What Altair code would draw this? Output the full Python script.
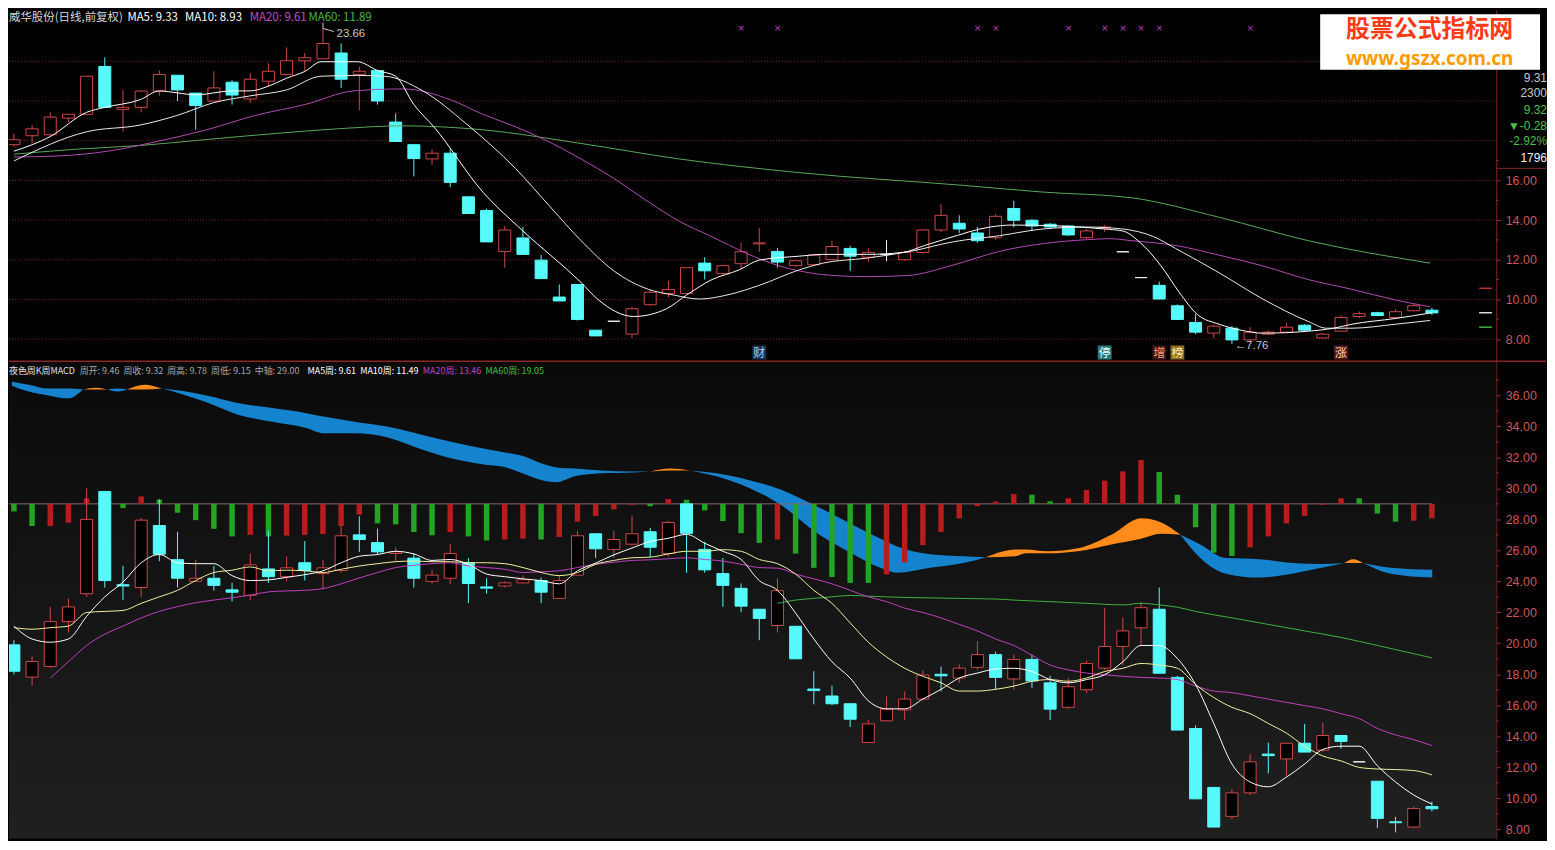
import altair as alt
import pandas as pd

CJK = "Noto Sans CJK SC"
NUM = "Liberation Sans"

W, HT, HB = 1495, 352, 480

# ---------------- daily candles (top panel) ----------------
d_open = [17.80, 18.25, 18.30, 19.14, 19.33, 21.74, 19.58, 19.68, 20.50, 21.30,
          20.40, 20.00, 20.95, 20.10, 21.00, 21.34, 22.03, 22.13, 22.42, 21.34,
          21.54, 18.94, 17.80, 17.08, 17.37, 15.17, 14.48, 12.42, 13.10, 11.98,
          10.12, 10.75, 8.45, 8.90, 8.25, 9.73, 10.30, 10.30, 11.83, 11.30,
          11.80, 12.80, 12.42, 11.70, 11.75, 12.00, 12.57, 12.13, 12.27, 12.00,
          12.37, 13.50, 13.84, 13.35, 13.11, 14.58, 13.99, 13.79, 13.70, 13.11,
          13.60, 12.40, 11.10, 10.71, 9.68, 8.84, 8.30, 8.55, 7.96, 8.25,
          8.35, 8.70, 8.06, 8.40, 9.14, 9.33, 9.09, 9.43, 9.46]
d_close = [18.05, 18.60, 19.19, 19.33, 21.25, 19.68, 19.68, 20.50, 21.34, 20.56,
           19.77, 20.66, 20.30, 21.10, 21.50, 22.03, 22.18, 22.90, 21.10, 21.50,
           20.00, 17.96, 17.10, 17.37, 15.90, 14.33, 12.90, 13.50, 12.27, 11.05,
           9.92, 8.99, 8.16, 8.90, 9.53, 10.36, 10.50, 11.60, 11.44, 11.70,
           12.40, 12.85, 11.88, 11.95, 12.23, 12.67, 12.18, 12.37, 12.27, 12.37,
           13.50, 14.24, 13.55, 12.96, 14.19, 13.99, 13.70, 13.65, 13.25, 13.45,
           13.65, 12.40, 11.10, 10.02, 8.99, 8.35, 8.65, 7.96, 8.35, 8.35,
           8.60, 8.45, 8.25, 9.09, 9.28, 9.19, 9.38, 9.68, 9.32]
d_high = [18.35, 18.80, 19.43, 19.33, 21.25, 22.20, 20.56, 20.56, 21.54, 21.30,
          20.40, 21.50, 21.05, 21.40, 21.90, 22.70, 22.42, 23.66, 22.90, 21.74,
          21.54, 19.38, 17.80, 17.57, 17.57, 15.17, 14.58, 13.70, 13.65, 12.23,
          10.75, 10.75, 8.45, 8.90, 9.63, 10.50, 10.94, 11.60, 12.13, 11.75,
          12.85, 13.60, 12.60, 12.00, 12.25, 12.96, 12.70, 12.57, 13.00, 12.45,
          13.55, 14.82, 14.24, 13.65, 14.30, 14.97, 14.05, 13.85, 13.75, 13.55,
          13.75, 12.40, 11.10, 10.90, 9.75, 9.28, 8.75, 8.65, 8.60, 8.45,
          8.80, 8.75, 8.30, 9.20, 9.40, 9.38, 9.50, 9.78, 9.58]
d_low = [17.70, 17.86, 18.20, 18.94, 19.33, 19.68, 18.45, 19.43, 20.26, 20.00,
         18.55, 20.00, 19.82, 19.90, 20.75, 21.30, 21.50, 22.13, 20.66, 19.53,
         19.82, 17.96, 16.20, 16.78, 15.66, 14.33, 12.90, 11.60, 12.27, 11.05,
         9.92, 8.94, 8.16, 8.90, 8.06, 9.68, 10.10, 10.30, 11.00, 11.25,
         11.55, 12.40, 11.60, 11.65, 11.70, 12.00, 11.44, 11.88, 11.93, 11.95,
         12.30, 13.40, 13.35, 12.86, 13.00, 13.65, 13.45, 13.60, 13.20, 13.05,
         13.40, 12.40, 11.10, 10.00, 8.99, 8.25, 8.06, 7.76, 7.90, 8.20,
         8.30, 8.40, 8.00, 8.35, 9.05, 9.15, 9.05, 9.40, 9.22]

# daily moving averages (candle index, price)
ma5_i = [1, 3, 5, 6, 7.95, 9, 10, 11, 13, 14, 15, 16, 17, 17.9, 19, 19.9, 21, 22, 23, 24.1,
         26.8, 29, 32.2, 33.1, 35.1, 36.9, 38, 39.4, 40.9, 42, 44.2, 45.5, 47.9, 49.9, 51.1,
         52.3, 54.7, 55.9, 58.6, 61, 62, 62.9, 64.1, 65.1, 66.1, 67.3, 68.5, 69.7, 72.2, 73.6,
         74.6, 77, 79]
ma5_v = [17.47, 18.21, 19.43, 19.68, 20.07, 20.51, 20.41, 20.31, 20.51, 20.51, 20.75, 21.15,
         21.49, 21.98, 21.98, 21.98, 21.54, 21.25, 19.82, 18.70, 15.41, 13.45, 10.85, 10.02,
         9.14, 9.53, 10.22, 11.00, 11.49, 11.98, 12.18, 12.27, 12.27, 12.37, 12.72, 13.06,
         13.65, 13.75, 13.70, 13.55, 13.45, 12.91, 11.69, 10.36, 9.24, 8.75, 8.45, 8.30, 8.40,
         8.55, 8.75, 9.04, 9.33]
ma10_i = [1, 5, 7.95, 10, 12, 14, 16, 17.9, 19.9, 21.4, 23.5, 25.9, 28.6, 30.4, 32.2, 34,
          35.9, 37.3, 38.7, 40.4, 42, 44.2, 45.5, 47.9, 50.3, 52.7, 55.2, 57.6, 60, 62, 63.7,
          64.9, 67.3, 69.7, 72.2, 73.2, 74.6, 77, 78.9]
ma10_v = [16.98, 18.45, 18.79, 19.28, 19.92, 20.26, 20.56, 21.25, 21.29, 21.25, 20.51, 18.84,
          16.59, 14.77, 12.96, 11.44, 10.51, 10.22, 10.02, 10.26, 10.71, 11.49, 11.83, 12.08,
          12.42, 12.91, 13.21, 13.55, 13.65, 13.55, 13.16, 12.57, 11.34, 10.02, 8.89, 8.55,
          8.55, 8.75, 8.94]
ma20_i = [1, 3.44, 6.16, 8.87, 11.6, 14.3, 17, 19.7, 22.4, 25, 26.8, 28.6, 30.4, 32.2, 34,
          35.9, 37.6, 39.4, 41.3, 43.1, 44.2, 45.5, 47.9, 50.1, 52.7, 55.2, 57.6, 60, 61.3,
          62.5, 64.9, 67.3, 69.7, 72.2, 74.6, 77, 78.9]
ma20_v = [17.18, 17.23, 17.47, 17.96, 18.55, 19.28, 19.82, 20.51, 20.61, 20.07, 19.33, 18.70,
          17.96, 17.08, 16.10, 14.92, 13.94, 13.16, 12.32, 11.69, 11.44, 11.25, 11.15, 11.20,
          11.74, 12.42, 12.81, 13.01, 13.06, 12.96, 12.72, 12.23, 11.69, 11.00, 10.51, 9.97,
          9.63]
ma60_i = [1, 4.4, 7.95, 11.6, 15.2, 18.8, 22.4, 26.8, 32.2, 37.6, 44.2, 53.2, 57.6, 62.5,
          67.3, 72.2, 78.9]
ma60_v = [17.32, 17.57, 17.76, 18.06, 18.35, 18.60, 18.75, 18.55, 17.86, 17.08, 16.39, 15.75,
          15.41, 15.12, 14.14, 12.96, 11.83]

top_grid = [8, 10, 12, 14, 16, 18, 20, 22]
top_minor = [9, 11, 13, 15, 17]
xmark_i = [41, 43, 54, 55, 59, 61, 62, 63, 64, 69]
flag_i = [42, 61, 64, 65, 74]
flag_t = ["财", "停", "增", "榜", "涨"]
flag_bg = ["#1c3350", "#2a7878", "#3a1810", "#8a6a20", "#5a1a1a"]
flag_fg = ["#9fd0ff", "#e8ffff", "#ff9a70", "#fff0b0", "#ffd0c0"]

# ---------------- weekly candles (bottom panel) ----------------
w_open = [19.90, 17.82, 18.50, 21.40, 23.20, 29.80, 23.78, 23.60, 27.60, 25.40,
          24.00, 24.20, 23.45, 23.10, 24.80, 24.30, 25.20, 24.50, 24.70, 27.00,
          26.50, 25.80, 25.50, 24.00, 24.20, 25.20, 23.64, 23.70, 23.90, 24.05,
          22.90, 24.40, 27.07, 26.06, 26.40, 27.20, 25.80, 29.00, 26.06, 24.50,
          23.55, 22.20, 21.15, 21.10, 17.05, 16.60, 16.10, 13.60, 15.00, 15.70,
          16.40, 18.00, 17.76, 18.45, 19.27, 17.70, 18.96, 17.45, 15.87, 17.00,
          18.40, 19.80, 21.00, 22.20, 17.80, 14.50, 10.70, 8.83, 10.35, 12.85,
          12.54, 13.55, 13.10, 14.05, 12.35, 11.10, 8.48, 8.14, 9.46]
w_close = [18.20, 18.83, 21.40, 22.35, 28.00, 24.05, 23.70, 27.95, 25.75, 24.20,
           24.20, 23.74, 23.30, 25.06, 24.30, 24.87, 24.70, 24.87, 26.94, 26.70,
           25.90, 25.90, 24.20, 24.40, 25.80, 23.86, 23.56, 23.90, 24.10, 23.30,
           24.05, 26.94, 26.10, 26.70, 27.07, 26.20, 27.80, 27.10, 24.74, 23.74,
           22.40, 21.60, 23.40, 19.00, 16.95, 16.10, 15.10, 14.80, 15.75, 16.40,
           17.95, 17.90, 18.40, 19.27, 17.80, 18.96, 17.57, 15.75, 17.20, 18.70,
           19.80, 20.80, 22.30, 18.07, 14.40, 9.96, 8.14, 10.35, 12.35, 12.75,
           13.55, 12.98, 14.05, 13.67, 12.35, 8.70, 8.42, 9.33, 9.32]
w_high = [20.20, 19.15, 22.35, 22.90, 30.00, 29.80, 25.00, 28.10, 29.30, 27.20,
          25.40, 25.00, 23.90, 25.80, 27.26, 25.60, 26.60, 25.40, 27.60, 28.20,
          27.40, 26.20, 25.80, 24.74, 26.40, 25.50, 24.20, 24.00, 24.36, 24.24,
          24.36, 27.26, 27.07, 27.26, 28.26, 27.45, 27.90, 29.00, 26.56, 25.50,
          23.86, 22.20, 24.20, 21.10, 18.20, 17.26, 16.10, 15.06, 16.57, 16.90,
          18.26, 18.50, 18.64, 20.15, 19.46, 19.27, 19.27, 17.90, 17.76, 18.90,
          22.30, 21.66, 22.67, 23.60, 17.90, 14.70, 10.70, 10.60, 12.85, 13.60,
          13.55, 14.80, 14.87, 14.05, 12.35, 11.10, 8.80, 9.46, 9.78]
w_low = [18.00, 17.26, 18.40, 20.70, 23.00, 23.60, 22.80, 23.00, 25.30, 23.60,
         24.00, 23.40, 22.70, 22.80, 23.90, 24.00, 24.05, 23.50, 24.55, 25.90,
         25.75, 25.30, 23.60, 23.86, 23.80, 22.60, 23.20, 23.60, 23.86, 22.60,
         22.85, 24.40, 25.50, 25.50, 26.30, 25.56, 25.60, 24.55, 24.55, 22.35,
         22.00, 20.20, 20.70, 19.00, 16.06, 16.00, 14.60, 13.60, 14.95, 15.06,
         16.38, 16.90, 17.45, 18.30, 17.00, 17.00, 17.13, 15.05, 15.75, 16.80,
         18.30, 18.58, 19.90, 18.07, 14.40, 9.96, 8.14, 8.64, 10.20, 11.60,
         11.47, 12.98, 13.00, 13.20, 12.35, 8.07, 7.80, 8.10, 9.15]

wma5_v = [21.11, 20.28, 20.07, 20.28, 21.74, 23.00, 23.95, 25.20, 25.73, 25.20,
          25.14, 25.14, 24.37, 24.05, 24.09, 24.26, 24.43, 24.68, 25.20, 25.62,
          25.73, 25.94, 25.77, 25.35, 25.41, 25.10, 24.47, 24.30, 24.16, 24.05,
          23.84, 24.68, 25.18, 25.71, 26.15, 26.57, 26.78, 27.03, 26.46, 25.94,
          25.41, 24.05, 23.42, 21.95, 20.28, 18.81, 17.76, 16.29, 15.77, 15.77,
          16.40, 17.03, 17.76, 18.08, 18.34, 18.39, 18.18, 17.66, 17.45, 17.66,
          17.97, 18.81, 19.86, 19.86, 19.02, 17.34, 14.83, 12.21, 11.05, 10.74,
          11.37, 12.21, 13.15, 13.36, 13.36, 12.10, 11.05, 10.21, 9.63]
wma10_v = [21.01, 20.91, 21.01, 21.11, 21.99, 22.06, 22.12, 22.58, 23.00, 23.42,
           24.05, 24.57, 24.72, 24.93, 24.68, 24.72, 24.68, 24.57, 24.78, 24.99,
           25.14, 25.27, 25.31, 25.27, 25.27, 25.20, 25.20, 25.14, 24.89, 24.57,
           24.37, 24.57, 25.10, 25.35, 25.52, 25.56, 25.77, 25.94, 25.94, 26.04,
           25.94, 25.41, 25.14, 24.47, 23.42, 22.58, 21.32, 20.07, 19.12, 18.39,
           17.87, 17.45, 16.92, 16.92, 17.03, 17.24, 17.55, 17.66, 17.55, 17.76,
           18.18, 18.39, 18.70, 18.60, 18.39, 17.34, 16.50, 15.87, 15.46, 14.83,
           14.20, 13.36, 12.73, 12.41, 11.99, 11.89, 11.85, 11.79, 11.51]
wma20_v = [17.76, 18.81, 19.86, 20.59, 21.11, 21.64, 22.06, 22.37, 22.62, 22.79,
           22.94, 23.11, 23.32, 23.38, 23.42, 23.53, 23.84, 24.22, 24.57, 24.89,
           25.04, 25.14, 25.20, 24.99, 24.89, 24.78, 24.57, 24.62, 24.68, 24.89,
           25.10, 25.23, 25.35, 25.39, 25.46, 25.52, 25.41, 25.31, 25.10, 24.89,
           24.85, 24.47, 24.16, 23.84, 23.42, 23.00, 22.69, 22.27, 21.99, 21.64,
           21.22, 20.80, 20.28, 19.86, 19.23, 18.60, 18.29, 18.08, 17.97, 17.87,
           17.80, 17.76, 17.66, 17.24, 16.92, 16.82, 16.61, 16.40, 16.19, 15.98,
           15.77, 15.46, 15.14, 14.51, 14.09, 13.78, 13.40]          # weeks 3..79
wma60_i = [43, 44, 45, 46, 47, 48, 49, 50, 51, 52, 53, 54, 55, 56, 58, 60, 62, 63, 64, 65,
           66, 68, 70, 72, 74, 76, 78, 79]
wma60_v = [22.58, 22.79, 22.90, 23.00, 23.09, 23.04, 23.00, 22.96, 22.94, 22.92, 22.90,
           22.88, 22.86, 22.79, 22.69, 22.58, 22.48, 22.58, 22.48, 22.33, 22.06, 21.64,
           21.22, 20.80, 20.38, 19.86, 19.33, 19.06]
bot_minor = [9, 11, 13, 15, 17, 19, 21, 23, 25, 27, 29, 31, 33, 35, 37]

# MACD histogram (drawn around the 29.00 centre axis)
macd_mid = 29.0
macd_v = [28.51, 27.57, 27.57, 27.78, 29.35, 28.90, 28.73, 29.48, 29.27, 28.43,
          27.95, 27.39, 26.90, 27.00, 26.90, 26.95, 27.00, 27.05, 27.57, 28.30,
          27.74, 27.68, 27.18, 26.97, 27.18, 26.90, 26.63, 26.70, 26.76, 26.70,
          26.86, 27.85, 28.22, 28.64, 28.94, 28.85, 29.31, 29.27, 28.58, 27.89,
          27.11, 26.48, 26.70, 25.79, 24.87, 24.28, 23.90, 23.90, 24.45, 25.22,
          26.34, 27.18, 28.06, 28.85, 29.15, 29.63, 29.59, 29.17, 29.36, 29.90,
          30.50, 31.10, 31.83, 31.05, 29.59, 27.49, 25.85, 25.64, 26.20, 26.90,
          27.74, 28.22, 28.94, 29.36, 29.36, 28.37, 27.85, 27.91, 28.06]
macd_c = ("ggrrrrgrgg" "gggrgrrrrr" "ggggrggrrg" "rrrrrgrggg" "ggrgggggrr"
          "rrrrrrggrr" "rrrgggggrr" "rrrrgggrr")

# MACD ribbon (upper edge, lower edge), split into coloured runs
rib_i = [0.89, 1.81, 2.90, 3.99, 4.80,
         4.80, 5.51, 6.16,
         6.16, 6.70, 7.24,
         7.24, 8.17, 9.14,
         9.14, 10.12, 11.59, 13.38, 15.22, 17.02, 18.10, 19.73, 21.52, 23.37, 25.16, 26.95,
         27.87, 28.96, 30.04, 30.86, 31.84, 33.30, 35.09, 36.02,
         36.02, 37.10, 38.19,
         38.19, 39.65, 41.45, 43.24, 45.08, 46.87, 48.67, 49.59, 51.38, 53.23, 54.47,
         54.47, 56.10, 56.65, 57.89, 59.52, 61.37, 63.00, 64.09, 65.17,
         65.17, 66.26, 67.67, 69.51, 71.30, 72.93, 74.18,
         74.18, 74.67, 75.22,
         75.22, 76.74, 79.02]
rib_hi = [36.88, 36.69, 36.44, 36.44, 36.38,
          36.38, 36.50, 36.38,
          36.38, 36.44, 36.38,
          36.38, 36.69, 36.44,
          36.44, 36.31, 36.00, 35.50, 35.18, 34.87, 34.62, 34.30, 33.99, 33.48, 32.98, 32.54,
          32.35, 32.10, 31.60, 31.35, 31.28, 31.16, 31.09, 31.09,
          31.09, 31.28, 31.16,
          31.16, 30.97, 30.53, 29.90, 28.89, 27.82, 26.75, 26.25, 25.75, 25.62, 25.56,
          25.56, 26.06, 26.06, 25.94, 26.13, 27.01, 28.08, 27.82, 27.01,
          27.01, 26.38, 25.50, 25.43, 25.18, 25.12, 25.18,
          25.18, 25.43, 25.18,
          25.18, 24.87, 24.74]
rib_lo = [36.63, 36.25, 36.00, 35.81, 36.38,
          36.38, 36.38, 36.38,
          36.38, 36.25, 36.38,
          36.38, 36.38, 36.44,
          36.44, 36.13, 35.56, 34.74, 34.30, 33.92, 33.55, 33.55, 33.30, 32.54, 31.91, 31.53,
          31.41, 30.97, 30.53, 30.40, 30.78, 30.97, 31.03, 31.09,
          31.09, 31.16, 31.16,
          31.16, 30.78, 30.03, 28.89, 27.19, 25.94, 24.87, 24.55, 24.87, 25.18, 25.56,
          25.56, 25.62, 25.81, 25.81, 25.94, 26.38, 26.75, 27.07, 27.01,
          27.01, 25.50, 24.49, 24.24, 24.49, 24.87, 25.18,
          25.18, 25.18, 25.18,
          25.18, 24.49, 24.24]
rib_run_len = [5, 3, 3, 3, 20, 3, 11, 9, 7, 3, 3]
rib_run_col = ["b", "o", "b", "o", "b", "o", "b", "o", "b", "o", "b"]

# ---------------- colours ----------------
RED = "#d04848"
CYAN = "#56fafa"
WHITE = "#f4f4f4"
BLUE = "#1683cf"
ORANGE = "#ff8c1a"
BAR_R = "#b81d1d"
BAR_G = "#24a424"

# ---------------- scales / axes ----------------
XS = alt.Scale(domain=[0.73, 82.54], nice=False, zero=False)
YT = alt.Scale(domain=[6.93, 24.58], nice=False, zero=False)
YB = alt.Scale(domain=[7.38, 38.2], nice=False, zero=False)


def make_axis(vals):
    return alt.Axis(orient="right", values=vals, format=".2f", grid=False, title=None,
                    labelColor="#c85a5a", labelFont=NUM, labelFontSize=12.5,
                    tickColor="#9a3030", tickSize=4, domainColor="#8a2626",
                    labelPadding=5)


AXT = make_axis([8, 10, 12, 14, 16])
AXB = make_axis(list(range(8, 37, 2)))


def X(f):
    return alt.X(f"{f}:Q", scale=XS, axis=None)


def YT_(f):
    return alt.Y(f"{f}:Q", scale=YT, axis=AXT)


def YB_(f):
    return alt.Y(f"{f}:Q", scale=YB, axis=AXB)


def blank():
    return alt.Data(values=[{}])


def txt(s, px, py, color, size=12, align="left", weight="normal", font=CJK):
    return alt.Chart(blank()).mark_text(
        text=s, align=align, baseline="middle", color=color, fontSize=size,
        font=font, fontWeight=weight
    ).encode(x=alt.value(px), y=alt.value(py))


def minor_ticks(vals, yf):
    df = pd.DataFrame({"v": vals})
    return alt.Chart(df).mark_rule(color="#9a3030", strokeWidth=1).encode(
        x=alt.value(W), x2=alt.value(W + 2.5), y=yf("v"))


def candle_layers(o, c, h, l, yf, half=0.33):
    df = pd.DataFrame({"i": list(range(1, len(o) + 1)), "o": o, "c": c, "h": h, "l": l})
    df["kind"] = ["up" if cc > oo else ("down" if cc < oo else "flat")
                  for oo, cc in zip(df.o, df.c)]
    df["x0"] = df.i - half
    df["x1"] = df.i + half
    layers = []
    for k, col in (("up", RED), ("down", CYAN), ("flat", WHITE)):
        sub = df[df.kind == k]
        if sub.empty:
            continue
        base = alt.Chart(sub)
        layers.append(base.mark_rule(color=col, strokeWidth=1).encode(
            x=X("i"), y=yf("l"), y2=alt.Y2("h")))
        fill = "#000000" if k == "up" else col
        layers.append(base.mark_rect(fill=fill, stroke=col, strokeWidth=1, clip=True).encode(
            x=X("x0"), x2=alt.X2("x1"), y=yf("o"), y2=alt.Y2("c")))
    return layers


def line(idx, vals, color, yf, width=1.0):
    df = pd.DataFrame({"i": idx, "v": vals})
    return alt.Chart(df).mark_line(color=color, strokeWidth=width, interpolate="monotone",
                                   clip=True).encode(x=X("i"), y=yf("v"))


# ================= TOP PANEL =================
top_layers = []
grid_df = pd.DataFrame({"g": top_grid})
top_layers.append(alt.Chart(grid_df).mark_rule(color="#7a2626", strokeDash=[1, 2],
                                               strokeWidth=1).encode(y=YT_("g")))
top_layers.append(minor_ticks(top_minor, YT_))
top_layers += candle_layers(d_open, d_close, d_high, d_low, YT_)
top_layers.append(line(ma60_i, ma60_v, "#5aa85a", YT_))
top_layers.append(line(ma20_i, ma20_v, "#b04cb0", YT_))
top_layers.append(line(ma10_i, ma10_v, "#eaeaea", YT_))
top_layers.append(line(ma5_i, ma5_v, "#ffffff", YT_))

# magenta x markers along the top
xm = pd.DataFrame({"i": xmark_i, "v": [23.65] * len(xmark_i)})
top_layers.append(alt.Chart(xm).mark_text(text="×", color="#c040c0", fontSize=11,
                                          font=NUM).encode(x=X("i"), y=YT_("v")))
# event flags at the bottom of the daily panel
fl = pd.DataFrame({"i": flag_i, "t": flag_t, "bg": flag_bg, "fg": flag_fg})
fl["x0"] = fl.i - 0.38
fl["x1"] = fl.i + 0.38
fl["y0"] = 6.97
fl["y1"] = 7.68
fl["ym"] = 7.31
top_layers.append(alt.Chart(fl).mark_rect().encode(
    x=X("x0"), x2=alt.X2("x1"), y=YT_("y0"), y2=alt.Y2("y1"),
    fill=alt.Fill("bg:N", scale=None)))
top_layers.append(alt.Chart(fl).mark_text(fontSize=12, font=CJK).encode(
    x=X("i"), y=YT_("ym"), text="t:N", color=alt.Color("fg:N", scale=None)))

# high / low annotations
ann = pd.DataFrame({"i": [18.75, 68.15], "v": [23.38, 7.64], "t": ["23.66", "←7.76"]})
top_layers.append(alt.Chart(ann).mark_text(align="left", color="#c8c8c8", fontSize=11.5,
                                           font=NUM).encode(x=X("i"), y=YT_("v"), text="t:N"))
flag_line = pd.DataFrame({"i": [18.0, 18.0, 18.6], "v": [23.66, 23.95, 23.5]})
top_layers.append(alt.Chart(flag_line).mark_line(color="#c8c8c8", strokeWidth=1).encode(
    x=X("i"), y=YT_("v"), order=alt.Order("v:Q", sort="ascending")))

# price markers near the right axis
pm = pd.DataFrame({"x0": [81.6] * 3, "x1": [82.3] * 3, "v": [10.56, 9.33, 8.60],
                   "col": ["#c03030", "#e0e0e0", "#40b040"]})
top_layers.append(alt.Chart(pm).mark_rule(strokeWidth=1.5).encode(
    x=X("x0"), x2=alt.X2("x1"), y=YT_("v"), color=alt.Color("col:N", scale=None)))

# title line
top_layers += [
    txt("威华股份(日线,前复权)", 0, 8, "#d8d8d8", 11.5),
    txt("MA5: 9.33", 119, 8, "#ffffff", 11.5),
    txt("MA10: 8.93", 177, 8, "#ffffff", 11.5),
    txt("MA20: 9.61", 242, 8, "#c050c0", 11.5),
    txt("MA60: 11.89", 301, 8, "#48b848", 11.5),
]
# right-hand quote box
top_layers += [
    txt("9.31", 1546, 68, "#c8c8c8", 12, "right", font=NUM),
    txt("2300", 1546, 83, "#c8c8c8", 12, "right", font=NUM),
    txt("9.32", 1546, 100, "#4cc04c", 12, "right", font=NUM),
    txt("▼-0.28", 1546, 116, "#4cc04c", 12, "right", font=NUM),
    txt("-2.92%", 1546, 132, "#4cc04c", 12, "right", font=NUM),
    txt("1796", 1546, 149, "#f0f0f0", 12, "right", font=NUM),
]
top_layers.append(alt.Chart(blank()).mark_rule(color="#8a2626", strokeWidth=1).encode(
    x=alt.value(W), x2=alt.value(W + 50), y=alt.value(159)))
# site watermark
top_layers.append(alt.Chart(blank()).mark_rect(fill="#ffffff").encode(
    x=alt.value(1318), x2=alt.value(1539), y=alt.value(4), y2=alt.value(60)))
top_layers.append(txt("股票公式指标网", 1428, 20, "#ff3a14", 24, "center", "bold"))
top_layers.append(txt("www.gszx.com.cn", 1428, 49, "#ff9a00", 19, "center", "bold",
                      font="Noto Sans"))

top = alt.layer(*top_layers).properties(width=W, height=HT)

# ================= BOTTOM PANEL =================
bot_layers = []
bot_layers.append(alt.Chart(blank()).mark_rect(
    fill=alt.Gradient(gradient="linear",
                      stops=[alt.GradientStop(color="#0a0a0a", offset=0),
                             alt.GradientStop(color="#202020", offset=1)],
                      x1=0, x2=0, y1=0, y2=1)
).encode(x=alt.value(0), x2=alt.value(W), y=alt.value(0), y2=alt.value(HB)))
bot_layers.append(minor_ticks(bot_minor, YB_))

seg_ids, seg_cols = [], []
for n, (ln, cl) in enumerate(zip(rib_run_len, rib_run_col)):
    seg_ids += [n] * ln
    seg_cols += [cl] * ln
rib = pd.DataFrame({"i": rib_i, "hi": rib_hi, "lo": rib_lo, "seg": seg_ids, "col": seg_cols})
for cl, hexc in (("b", BLUE), ("o", ORANGE)):
    bot_layers.append(alt.Chart(rib[rib.col == cl]).mark_area(
        color=hexc, opacity=1, interpolate="monotone", clip=True).encode(
        x=X("i"), y=YB_("hi"), y2=alt.Y2("lo"), detail="seg:N"))

# centre axis of the MACD
mid = pd.DataFrame({"x0": [0.73], "x1": [79.0], "v": [macd_mid]})
bot_layers.append(alt.Chart(mid).mark_rule(color="#8a6a6a", strokeWidth=1).encode(
    x=X("x0"), x2=alt.X2("x1"), y=YB_("v")))
mb = pd.DataFrame({"i": list(range(1, 80)), "v": macd_v, "c": list(macd_c)})
mb["x0"] = mb.i - 0.15
mb["x1"] = mb.i + 0.15
mb["m"] = macd_mid
for cl, hexc in (("r", BAR_R), ("g", BAR_G)):
    bot_layers.append(alt.Chart(mb[mb.c == cl]).mark_rect(color=hexc).encode(
        x=X("x0"), x2=alt.X2("x1"), y=YB_("m"), y2=alt.Y2("v")))

bot_layers += candle_layers(w_open, w_close, w_high, w_low, YB_)
widx = list(range(1, 80))
bot_layers.append(line(wma60_i, wma60_v, "#40b040", YB_))
bot_layers.append(line(list(range(3, 80)), wma20_v, "#c040c0", YB_))
bot_layers.append(line(widx, wma10_v, "#f0f0a0", YB_))
bot_layers.append(line(widx, wma5_v, "#ffffff", YB_))

# separator between the two panels
bot_layers.append(alt.Chart(blank()).mark_rule(color="#8a2626", strokeWidth=1.5).encode(
    x=alt.value(0), x2=alt.value(W + 50), y=alt.value(0)))

GRAY = "#a8a8a8"
FS = 9
bot_layers += [
    txt("夜色周K周MACD", 0, 10, "#e0e0e0", FS),
    txt("周开: 9.46", 71, 10, GRAY, FS),
    txt("周收: 9.32", 115, 10, GRAY, FS),
    txt("周高: 9.78", 159, 10, GRAY, FS),
    txt("周低: 9.15", 203, 10, GRAY, FS),
    txt("中轴: 29.00", 247, 10, GRAY, FS),
    txt("MA5周: 9.61", 300, 10, "#ffffff", FS),
    txt("MA10周: 11.49", 353, 10, "#ffffff", FS),
    txt("MA20周: 13.46", 416, 10, "#c040c0", FS),
    txt("MA60周: 19.05", 479, 10, "#40c040", FS),
]

bottom = alt.layer(*bot_layers).properties(width=W, height=HB)

chart = alt.vconcat(top, bottom, spacing=0).properties(
    padding=0, background="#000000"
).configure_view(strokeWidth=0)

chart.save("out.html", embed_options={"renderer": "svg", "actions": False})
